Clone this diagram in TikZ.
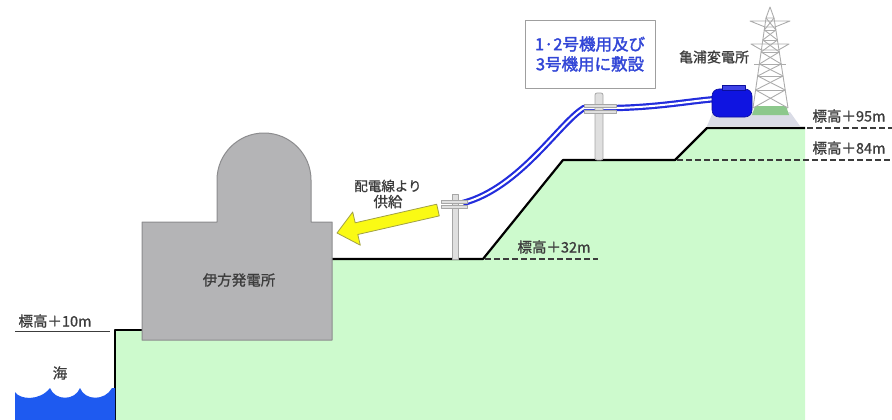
\documentclass[tikz,border=0pt]{standalone}
\usepackage{fontspec}
\newfontfamily\jp{Noto Sans CJK JP}
\usetikzlibrary{calc}

\definecolor{land}{RGB}{205,250,205}
\definecolor{sea}{RGB}{30,90,240}
\definecolor{plant}{RGB}{180,180,182}
\definecolor{plantedge}{RGB}{140,140,142}
\definecolor{cableblue}{RGB}{35,45,220}
\definecolor{trafo}{RGB}{15,20,225}
\definecolor{boxtext}{RGB}{50,70,215}
\definecolor{labeltext}{RGB}{60,60,60}
\definecolor{arrowfill}{RGB}{250,250,20}
\definecolor{arrowedge}{RGB}{160,160,70}
\definecolor{padgrey}{RGB}{218,220,230}
\definecolor{padgreen}{RGB}{140,200,140}

\tikzset{
  groundline/.style={line width=2.2pt, black},
  levelline/.style={line width=1.6pt, labeltext, dash pattern=on 6pt off 3pt},
  lbl/.style={font=\jp\fontsize{14.5}{16}\selectfont\addfontfeature{FakeBold=1}, text=labeltext, inner sep=0pt},
  cable/.style={draw=cableblue, double=white, line width=2.2pt, double distance=2pt},
  polebody/.style={fill=gray!25, draw=gray!70, line width=0.8pt},
  lattice/.style={draw=gray!65, line width=0.9pt},
}

\begin{document}
\begin{tikzpicture}[x=1pt, y=-1pt, line join=round]
\useasboundingbox (0,0) rectangle (892,420);

% ground
\fill[land] (115,420) -- (115,330) -- (200,330) -- (200,259) -- (483,259)
  -- (563,160) -- (675,160) -- (707,128) -- (805,128) -- (805,420) -- cycle;
\draw[groundline] (115,420) -- (115,330) -- (145,330);
\draw[groundline] (330,259) -- (483,259) -- (563,160) -- (675,160) -- (707,128) -- (805,128);

% sea
\fill[sea] (15,420) -- (15,392) .. controls (20,400) and (40,401) .. (50,388)
  .. controls (55,401) and (75,401) .. (80,388)
  .. controls (85,401) and (105,401) .. (112,388) -- (115,388) -- (115,420) -- cycle;
\node[lbl] (seaL) at (60,373) {海};

% elevation marks
\draw[labeltext, line width=0.9pt] (15,331) -- (110,331);
\node[lbl] (h10) at (55,321) {標高＋10m};
\draw[levelline] (485,259) -- (598,259);
\node[lbl] (h32) at (554,247) {標高＋32m};
\draw[levelline] (677,160) -- (892,160);
\node[lbl] (h84) at (849,148) {標高＋84m};
\draw[levelline] (807,128) -- (892,128);
\node[lbl] (h95) at (849,116) {標高＋95m};

% power station
\filldraw[fill=plant, draw=plantedge, line width=1pt]
  (142,222) -- (217,222) -- (217,180) arc[start angle=180, end angle=0, radius=47pt]
  -- (311,222) -- (332,222) -- (332,340) -- (142,340) -- cycle;
\node[lbl] (plantL) at (239,280) {伊方発電所};

% supply arrow
\filldraw[fill=arrowfill, draw=arrowedge, line width=0.8pt]
  (337,233) -- (360.3,245.2) -- (357.8,234.5) -- (439.3,215.9)
  -- (436.7,204.2) -- (355.2,222.8) -- (352.7,212.0) -- cycle;
\node[lbl, align=center] (supplyL) at (388,194)
  {\fontsize{13.5}{18}\selectfont 配電線より\\供給};

% substation pad
\fill[padgrey] (713,112) -- (790,112) -- (800,126) -- (707,126) -- cycle;
\fill[padgreen] (755,106) -- (786,106) -- (789,115) -- (752,115) -- cycle;

% transmission tower
\begin{scope}[lattice]
  \draw (770,7) -- (766,18) -- (774,18) -- cycle;
  \draw (766,18) -- (753,108);
  \draw (774,18) -- (788,108);
  \draw (766,18) -- (775.9,30) -- (762.8,40) -- (779.3,52) -- (759.4,64)
        -- (783.0,76) -- (755.6,90) -- (788,108);
  \draw (774,18) -- (764.3,30) -- (777.4,40) -- (761.1,52) -- (781.2,64)
        -- (757.6,76) -- (785.2,90) -- (753,108);
  \draw (764.3,30) -- (775.9,30) (762.8,40) -- (777.4,40) (761.1,52) -- (779.3,52)
        (759.4,64) -- (781.2,64) (757.6,76) -- (783.0,76) (755.6,90) -- (785.2,90);
  \draw (750,21) -- (790,21) -- (775,27) -- (765,27) -- cycle;
  \draw (751,44) -- (789,44) -- (778.5,50) -- (761.5,50) -- cycle;
  \draw (754,64) -- (786,64);
\end{scope}
\node[lbl, font=\jp\fontsize{14}{16}\selectfont\addfontfeature{FakeBold=1}] (subL) at (714,57) {亀浦変電所};

% cable route
\coordinate (pole1top) at (463,203);
\coordinate (pole2left) at (584,108);
\coordinate (pole2right) at (616,108);
\coordinate (trafoin) at (716,99);
\draw[cable] (pole1top) .. controls (520,188) and (560,122) .. (pole2left)
  -- (pole2right) .. controls (660,107) and (690,101) .. (trafoin);

% transformer
\filldraw[fill=trafo, draw=trafo!70!black, line width=0.6pt, rounded corners=7pt]
  (712,89) rectangle (752,117);
\filldraw[fill=trafo!80!white, draw=trafo!70!black, line width=0.6pt]
  (722,85) rectangle (745,90);

% distribution poles
\filldraw[polebody] (452,194) rectangle (458,259);
\filldraw[polebody] (441,200) rectangle (467,203);
\filldraw[polebody] (441,205) rectangle (467,208);
\filldraw[polebody, rounded corners=2pt] (595,93) rectangle (603,160);
\filldraw[polebody] (584,104) rectangle (616,107);
\filldraw[polebody] (584,110) rectangle (616,113);

% note box
\node[draw=gray!75, line width=0.9pt, fill=white, minimum width=130pt,
      minimum height=68pt, inner sep=0pt, align=center,
      font=\jp\fontsize{16.5}{20}\selectfont\addfontfeature{FakeBold=2},
      text=boxtext] (note) at (590,54) {1·2号機用及び\\3号機用に敷設};
\end{tikzpicture}
\end{document}
